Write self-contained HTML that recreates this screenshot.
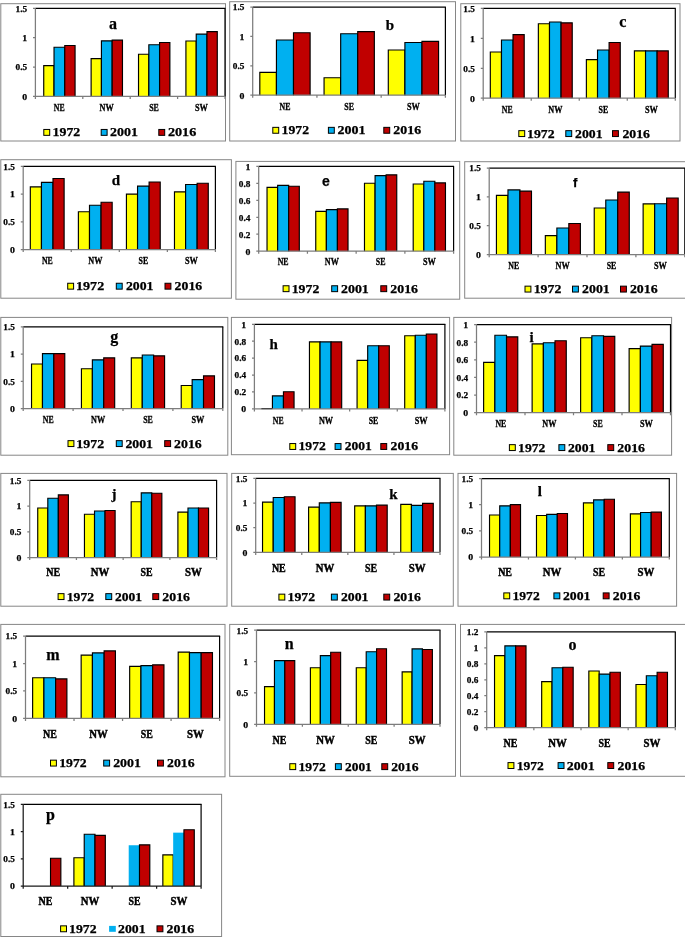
<!DOCTYPE html>
<html><head><meta charset="utf-8"><title>Charts</title>
<style>
html,body{margin:0;padding:0;background:#fff;}
svg{display:block;}
text{font-family:"Liberation Serif",serif;font-weight:bold;fill:#000;stroke:#000;stroke-width:0.25;}
text.c0{stroke-width:0.3px;}
text.c1{stroke-width:0.45px;}
</style></head><body>
<svg width="685" height="937" viewBox="0 0 685 937">
<rect width="685" height="937" fill="#fff"/>
<g id="p_a">
<rect x="0.8" y="3.7" width="224.7" height="137.3" fill="#fff" stroke="#868686" stroke-width="1.0"/>
<path d="M35.4 8.4H225.5" fill="none" stroke="#000" stroke-width="1.2"/>
<path d="M225 8.4V96.4" fill="none" stroke="#000" stroke-width="1.2"/>
<path d="M43.73 96.4V65.62H54.03V96.4" fill="#FFFF00" stroke="#000" stroke-width="1.15"/>
<path d="M54.03 96.4V47.23H64.77V96.4" fill="#00B0F0" stroke="#000" stroke-width="1.15"/>
<path d="M64.77 96.4V45.53H75.07V96.4" fill="#C00000" stroke="#000" stroke-width="1.15"/>
<path d="M91.12 96.4V58.63H101.43V96.4" fill="#FFFF00" stroke="#000" stroke-width="1.15"/>
<path d="M101.43 96.4V40.83H112.17V96.4" fill="#00B0F0" stroke="#000" stroke-width="1.15"/>
<path d="M112.17 96.4V40.13H122.47V96.4" fill="#C00000" stroke="#000" stroke-width="1.15"/>
<path d="M138.52 96.4V54.23H148.83V96.4" fill="#FFFF00" stroke="#000" stroke-width="1.15"/>
<path d="M148.83 96.4V44.73H159.57V96.4" fill="#00B0F0" stroke="#000" stroke-width="1.15"/>
<path d="M159.57 96.4V42.53H169.88V96.4" fill="#C00000" stroke="#000" stroke-width="1.15"/>
<path d="M185.92 96.4V41.03H196.23V96.4" fill="#FFFF00" stroke="#000" stroke-width="1.15"/>
<path d="M196.23 96.4V34.13H206.97V96.4" fill="#00B0F0" stroke="#000" stroke-width="1.15"/>
<path d="M206.97 96.4V31.62H217.28V96.4" fill="#C00000" stroke="#000" stroke-width="1.15"/>
<path d="M35.4 8.4V96.4H225M35.4 8.4h-2.4M35.4 37.73h-2.4M35.4 67.07h-2.4M35.4 96.4h-2.4M35.4 96.4v2.6M82.8 96.4v2.6M130.2 96.4v2.6M177.6 96.4v2.6M225 96.4v2.6" fill="none" stroke="#7d7d7d" stroke-width="1.25"/>
<text x="15.5" y="11.7" font-size="9" textLength="11.6" lengthAdjust="spacingAndGlyphs">1.5</text>
<text x="22.2" y="41.03" font-size="9" textLength="4.9" lengthAdjust="spacingAndGlyphs">1</text>
<text x="15.5" y="70.37" font-size="9" textLength="11.6" lengthAdjust="spacingAndGlyphs">0.5</text>
<text x="22.2" y="99.7" font-size="9" textLength="4.9" lengthAdjust="spacingAndGlyphs">0</text>
<text x="59.2" y="110.9" text-anchor="middle" font-size="9.5" textLength="10.9" lengthAdjust="spacingAndGlyphs" class="c0">NE</text>
<text x="106.6" y="110.9" text-anchor="middle" font-size="9.5" textLength="14.1" lengthAdjust="spacingAndGlyphs" class="c0">NW</text>
<text x="154" y="110.9" text-anchor="middle" font-size="9.5" textLength="9.7" lengthAdjust="spacingAndGlyphs" class="c0">SE</text>
<text x="201.4" y="110.9" text-anchor="middle" font-size="9.5" textLength="12.9" lengthAdjust="spacingAndGlyphs" class="c0">SW</text>
<text x="112.9" y="29" text-anchor="middle" font-size="16">a</text>
<rect x="43.8" y="129.45" width="5.9" height="5.9" fill="#FFFF00" stroke="#000" stroke-width="1"/>
<text x="52.5" y="136.35" font-size="12" textLength="27.8" lengthAdjust="spacingAndGlyphs">1972</text>
<rect x="101.2" y="129.45" width="5.9" height="5.9" fill="#00B0F0" stroke="#000" stroke-width="1"/>
<text x="110" y="136.35" font-size="12" textLength="27.9" lengthAdjust="spacingAndGlyphs">2001</text>
<rect x="158.8" y="129.45" width="5.9" height="5.9" fill="#C00000" stroke="#000" stroke-width="1"/>
<text x="167.9" y="136.35" font-size="12" textLength="28.4" lengthAdjust="spacingAndGlyphs">2016</text>
</g>
<g id="p_b">
<rect x="229.7" y="1.7" width="225.8" height="139.3" fill="#fff" stroke="#868686" stroke-width="1.0"/>
<path d="M252.7 7.05H445.9" fill="none" stroke="#000" stroke-width="1.2"/>
<path d="M445.4 7.05V95.2" fill="none" stroke="#000" stroke-width="1.2"/>
<path d="M259.82 95.2V72.38H276.44V95.2" fill="#FFFF00" stroke="#000" stroke-width="1.15"/>
<path d="M276.44 95.2V39.98H293.49V95.2" fill="#00B0F0" stroke="#000" stroke-width="1.15"/>
<path d="M293.49 95.2V32.73H310.11V95.2" fill="#C00000" stroke="#000" stroke-width="1.15"/>
<path d="M324.06 95.2V77.73H340.68V95.2" fill="#FFFF00" stroke="#000" stroke-width="1.15"/>
<path d="M340.68 95.2V33.73H357.72V95.2" fill="#00B0F0" stroke="#000" stroke-width="1.15"/>
<path d="M357.72 95.2V31.57H374.34V95.2" fill="#C00000" stroke="#000" stroke-width="1.15"/>
<path d="M388.29 95.2V50.03H404.91V95.2" fill="#FFFF00" stroke="#000" stroke-width="1.15"/>
<path d="M404.91 95.2V42.53H421.96V95.2" fill="#00B0F0" stroke="#000" stroke-width="1.15"/>
<path d="M421.96 95.2V41.33H438.57V95.2" fill="#C00000" stroke="#000" stroke-width="1.15"/>
<path d="M252.7 7.05V95.2H445.4M252.7 7.05h-2.4M252.7 36.43h-2.4M252.7 65.82h-2.4M252.7 95.2h-2.4M252.7 95.2v2.6M316.93 95.2v2.6M381.17 95.2v2.6M445.4 95.2v2.6" fill="none" stroke="#7d7d7d" stroke-width="1.25"/>
<text x="232.8" y="10.35" font-size="9" textLength="11.6" lengthAdjust="spacingAndGlyphs">1.5</text>
<text x="239.5" y="39.73" font-size="9" textLength="4.9" lengthAdjust="spacingAndGlyphs">1</text>
<text x="232.8" y="69.12" font-size="9" textLength="11.6" lengthAdjust="spacingAndGlyphs">0.5</text>
<text x="239.5" y="98.5" font-size="9" textLength="4.9" lengthAdjust="spacingAndGlyphs">0</text>
<text x="284.92" y="109.7" text-anchor="middle" font-size="9.5" textLength="10.9" lengthAdjust="spacingAndGlyphs" class="c0">NE</text>
<text x="349.15" y="109.7" text-anchor="middle" font-size="9.5" textLength="9.7" lengthAdjust="spacingAndGlyphs" class="c0">SE</text>
<text x="413.38" y="109.7" text-anchor="middle" font-size="9.5" textLength="12.9" lengthAdjust="spacingAndGlyphs" class="c0">SW</text>
<text x="390" y="29.9" text-anchor="middle" font-size="15">b</text>
<rect x="272.8" y="127.35" width="5.9" height="5.9" fill="#FFFF00" stroke="#000" stroke-width="1"/>
<text x="281.5" y="134.25" font-size="12" textLength="27.5" lengthAdjust="spacingAndGlyphs">1972</text>
<rect x="328.4" y="127.35" width="5.9" height="5.9" fill="#00B0F0" stroke="#000" stroke-width="1"/>
<text x="337.4" y="134.25" font-size="12" textLength="28" lengthAdjust="spacingAndGlyphs">2001</text>
<rect x="383.8" y="127.35" width="5.9" height="5.9" fill="#C00000" stroke="#000" stroke-width="1"/>
<text x="393.3" y="134.25" font-size="12" textLength="27.8" lengthAdjust="spacingAndGlyphs">2016</text>
</g>
<g id="p_c">
<rect x="460.8" y="3.7" width="219.2" height="137.3" fill="#fff" stroke="#868686" stroke-width="1.0"/>
<path d="M483.2 8.4H675.8" fill="none" stroke="#000" stroke-width="1.2"/>
<path d="M675.3 8.4V98.2" fill="none" stroke="#000" stroke-width="1.2"/>
<path d="M490.32 98.2V52.03H501.48V98.2" fill="#FFFF00" stroke="#000" stroke-width="1.15"/>
<path d="M501.48 98.2V39.98H513.05V98.2" fill="#00B0F0" stroke="#000" stroke-width="1.15"/>
<path d="M513.05 98.2V34.63H524.2V98.2" fill="#C00000" stroke="#000" stroke-width="1.15"/>
<path d="M538.35 98.2V23.72H549.5V98.2" fill="#FFFF00" stroke="#000" stroke-width="1.15"/>
<path d="M549.5 98.2V22.02H561.08V98.2" fill="#00B0F0" stroke="#000" stroke-width="1.15"/>
<path d="M561.08 98.2V22.82H572.23V98.2" fill="#C00000" stroke="#000" stroke-width="1.15"/>
<path d="M586.38 98.2V59.63H597.53V98.2" fill="#FFFF00" stroke="#000" stroke-width="1.15"/>
<path d="M597.53 98.2V50.03H609.1V98.2" fill="#00B0F0" stroke="#000" stroke-width="1.15"/>
<path d="M609.1 98.2V42.53H620.25V98.2" fill="#C00000" stroke="#000" stroke-width="1.15"/>
<path d="M634.4 98.2V50.93H645.55V98.2" fill="#FFFF00" stroke="#000" stroke-width="1.15"/>
<path d="M645.55 98.2V50.93H657.12V98.2" fill="#00B0F0" stroke="#000" stroke-width="1.15"/>
<path d="M657.12 98.2V50.93H668.27V98.2" fill="#C00000" stroke="#000" stroke-width="1.15"/>
<path d="M483.2 8.4V98.2H675.3M483.2 8.4h-2.4M483.2 38.33h-2.4M483.2 68.27h-2.4M483.2 98.2h-2.4M483.2 98.2v2.6M531.23 98.2v2.6M579.25 98.2v2.6M627.27 98.2v2.6M675.3 98.2v2.6" fill="none" stroke="#7d7d7d" stroke-width="1.25"/>
<text x="463.3" y="11.7" font-size="9" textLength="11.6" lengthAdjust="spacingAndGlyphs">1.5</text>
<text x="470" y="41.63" font-size="9" textLength="4.9" lengthAdjust="spacingAndGlyphs">1</text>
<text x="463.3" y="71.57" font-size="9" textLength="11.6" lengthAdjust="spacingAndGlyphs">0.5</text>
<text x="470" y="101.5" font-size="9" textLength="4.9" lengthAdjust="spacingAndGlyphs">0</text>
<text x="507.31" y="113.1" text-anchor="middle" font-size="9.5" textLength="10.9" lengthAdjust="spacingAndGlyphs" class="c0">NE</text>
<text x="555.34" y="113.1" text-anchor="middle" font-size="9.5" textLength="14.1" lengthAdjust="spacingAndGlyphs" class="c0">NW</text>
<text x="603.36" y="113.1" text-anchor="middle" font-size="9.5" textLength="9.7" lengthAdjust="spacingAndGlyphs" class="c0">SE</text>
<text x="651.39" y="113.1" text-anchor="middle" font-size="9.5" textLength="12.9" lengthAdjust="spacingAndGlyphs" class="c0">SW</text>
<text x="622.9" y="26.9" text-anchor="middle" font-size="16">c</text>
<rect x="518.8" y="130.65" width="5.9" height="5.9" fill="#FFFF00" stroke="#000" stroke-width="1"/>
<text x="527.1" y="137.55" font-size="12" textLength="27.5" lengthAdjust="spacingAndGlyphs">1972</text>
<rect x="565.8" y="130.65" width="5.9" height="5.9" fill="#00B0F0" stroke="#000" stroke-width="1"/>
<text x="575" y="137.55" font-size="12" textLength="27.5" lengthAdjust="spacingAndGlyphs">2001</text>
<rect x="612.5" y="130.65" width="5.9" height="5.9" fill="#C00000" stroke="#000" stroke-width="1"/>
<text x="622.4" y="137.55" font-size="12" textLength="27.6" lengthAdjust="spacingAndGlyphs">2016</text>
</g>
<g id="p_d">
<rect x="0.8" y="159.7" width="230.6" height="138.5" fill="#fff" stroke="#868686" stroke-width="1.0"/>
<path d="M23.2 166.4H215.9" fill="none" stroke="#000" stroke-width="1.2"/>
<path d="M215.4 166.4V249.5" fill="none" stroke="#000" stroke-width="1.2"/>
<path d="M30.32 249.5V186.92H41.45V249.5" fill="#FFFF00" stroke="#000" stroke-width="1.15"/>
<path d="M41.45 249.5V182.42H53V249.5" fill="#00B0F0" stroke="#000" stroke-width="1.15"/>
<path d="M53 249.5V178.52H64.12V249.5" fill="#C00000" stroke="#000" stroke-width="1.15"/>
<path d="M78.38 249.5V211.72H89.5V249.5" fill="#FFFF00" stroke="#000" stroke-width="1.15"/>
<path d="M89.5 249.5V205.22H101.05V249.5" fill="#00B0F0" stroke="#000" stroke-width="1.15"/>
<path d="M101.05 249.5V202.22H112.17V249.5" fill="#C00000" stroke="#000" stroke-width="1.15"/>
<path d="M126.43 249.5V194.12H137.55V249.5" fill="#FFFF00" stroke="#000" stroke-width="1.15"/>
<path d="M137.55 249.5V186.12H149.1V249.5" fill="#00B0F0" stroke="#000" stroke-width="1.15"/>
<path d="M149.1 249.5V182.02H160.22V249.5" fill="#C00000" stroke="#000" stroke-width="1.15"/>
<path d="M174.47 249.5V191.82H185.6V249.5" fill="#FFFF00" stroke="#000" stroke-width="1.15"/>
<path d="M185.6 249.5V184.52H197.15V249.5" fill="#00B0F0" stroke="#000" stroke-width="1.15"/>
<path d="M197.15 249.5V183.22H208.27V249.5" fill="#C00000" stroke="#000" stroke-width="1.15"/>
<path d="M23.2 166.4V249.5H215.4M23.2 166.4h-2.4M23.2 194.1h-2.4M23.2 221.8h-2.4M23.2 249.5h-2.4M23.2 249.5v2.6M71.25 249.5v2.6M119.3 249.5v2.6M167.35 249.5v2.6M215.4 249.5v2.6" fill="none" stroke="#7d7d7d" stroke-width="1.25"/>
<text x="3.3" y="169.7" font-size="9" textLength="11.6" lengthAdjust="spacingAndGlyphs">1.5</text>
<text x="10" y="197.4" font-size="9" textLength="4.9" lengthAdjust="spacingAndGlyphs">1</text>
<text x="3.3" y="225.1" font-size="9" textLength="11.6" lengthAdjust="spacingAndGlyphs">0.5</text>
<text x="10" y="252.8" font-size="9" textLength="4.9" lengthAdjust="spacingAndGlyphs">0</text>
<text x="47.33" y="264.2" text-anchor="middle" font-size="9.5" textLength="10.9" lengthAdjust="spacingAndGlyphs" class="c0">NE</text>
<text x="95.38" y="264.2" text-anchor="middle" font-size="9.5" textLength="14.1" lengthAdjust="spacingAndGlyphs" class="c0">NW</text>
<text x="143.43" y="264.2" text-anchor="middle" font-size="9.5" textLength="9.7" lengthAdjust="spacingAndGlyphs" class="c0">SE</text>
<text x="191.47" y="264.2" text-anchor="middle" font-size="9.5" textLength="12.9" lengthAdjust="spacingAndGlyphs" class="c0">SW</text>
<text x="116" y="184.9" text-anchor="middle" font-size="15">d</text>
<rect x="67.7" y="283.25" width="5.9" height="5.9" fill="#FFFF00" stroke="#000" stroke-width="1"/>
<text x="76" y="290.15" font-size="12" textLength="28.2" lengthAdjust="spacingAndGlyphs">1972</text>
<rect x="116.3" y="283.25" width="5.9" height="5.9" fill="#00B0F0" stroke="#000" stroke-width="1"/>
<text x="125.9" y="290.15" font-size="12" textLength="27.5" lengthAdjust="spacingAndGlyphs">2001</text>
<rect x="165" y="283.25" width="5.9" height="5.9" fill="#C00000" stroke="#000" stroke-width="1"/>
<text x="174.6" y="290.15" font-size="12" textLength="27.6" lengthAdjust="spacingAndGlyphs">2016</text>
</g>
<g id="p_e">
<rect x="235.9" y="161.4" width="223.8" height="137.8" fill="#fff" stroke="#868686" stroke-width="1.0"/>
<path d="M258.7 166.4H454.1" fill="none" stroke="#000" stroke-width="1.2"/>
<path d="M453.6 166.4V251.2" fill="none" stroke="#000" stroke-width="1.2"/>
<path d="M267.03 251.2V187.42H277.64V251.2" fill="#FFFF00" stroke="#000" stroke-width="1.15"/>
<path d="M277.64 251.2V185.42H288.68V251.2" fill="#00B0F0" stroke="#000" stroke-width="1.15"/>
<path d="M288.68 251.2V186.22H299.3V251.2" fill="#C00000" stroke="#000" stroke-width="1.15"/>
<path d="M315.75 251.2V211.42H326.37V251.2" fill="#FFFF00" stroke="#000" stroke-width="1.15"/>
<path d="M326.37 251.2V209.62H337.41V251.2" fill="#00B0F0" stroke="#000" stroke-width="1.15"/>
<path d="M337.41 251.2V208.92H348.02V251.2" fill="#C00000" stroke="#000" stroke-width="1.15"/>
<path d="M364.48 251.2V183.22H375.09V251.2" fill="#FFFF00" stroke="#000" stroke-width="1.15"/>
<path d="M375.09 251.2V175.62H386.13V251.2" fill="#00B0F0" stroke="#000" stroke-width="1.15"/>
<path d="M386.13 251.2V174.82H396.75V251.2" fill="#C00000" stroke="#000" stroke-width="1.15"/>
<path d="M413.2 251.2V184.02H423.82V251.2" fill="#FFFF00" stroke="#000" stroke-width="1.15"/>
<path d="M423.82 251.2V181.22H434.86V251.2" fill="#00B0F0" stroke="#000" stroke-width="1.15"/>
<path d="M434.86 251.2V182.92H445.47V251.2" fill="#C00000" stroke="#000" stroke-width="1.15"/>
<path d="M258.7 166.4V251.2H453.6M258.7 166.4h-2.4M258.7 183.36h-2.4M258.7 200.32h-2.4M258.7 217.28h-2.4M258.7 234.24h-2.4M258.7 251.2h-2.4M258.7 251.2v2.6M307.43 251.2v2.6M356.15 251.2v2.6M404.88 251.2v2.6M453.6 251.2v2.6" fill="none" stroke="#7d7d7d" stroke-width="1.25"/>
<text x="245.5" y="169.7" font-size="9" textLength="4.9" lengthAdjust="spacingAndGlyphs">1</text>
<text x="238.8" y="186.66" font-size="9" textLength="11.6" lengthAdjust="spacingAndGlyphs">0.8</text>
<text x="238.8" y="203.62" font-size="9" textLength="11.6" lengthAdjust="spacingAndGlyphs">0.6</text>
<text x="238.8" y="220.58" font-size="9" textLength="11.6" lengthAdjust="spacingAndGlyphs">0.4</text>
<text x="238.8" y="237.54" font-size="9" textLength="11.6" lengthAdjust="spacingAndGlyphs">0.2</text>
<text x="245.5" y="254.5" font-size="9" textLength="4.9" lengthAdjust="spacingAndGlyphs">0</text>
<text x="283.16" y="265.2" text-anchor="middle" font-size="9.5" textLength="10.9" lengthAdjust="spacingAndGlyphs" class="c0">NE</text>
<text x="331.89" y="265.2" text-anchor="middle" font-size="9.5" textLength="14.1" lengthAdjust="spacingAndGlyphs" class="c0">NW</text>
<text x="380.61" y="265.2" text-anchor="middle" font-size="9.5" textLength="9.7" lengthAdjust="spacingAndGlyphs" class="c0">SE</text>
<text x="429.34" y="265.2" text-anchor="middle" font-size="9.5" textLength="12.9" lengthAdjust="spacingAndGlyphs" class="c0">SW</text>
<text x="326" y="186.1" text-anchor="middle" font-size="14" style="font-family:'Liberation Sans',sans-serif">e</text>
<rect x="283.1" y="285.75" width="5.9" height="5.9" fill="#FFFF00" stroke="#000" stroke-width="1"/>
<text x="291.7" y="292.65" font-size="12" textLength="27.6" lengthAdjust="spacingAndGlyphs">1972</text>
<rect x="331.7" y="285.75" width="5.9" height="5.9" fill="#00B0F0" stroke="#000" stroke-width="1"/>
<text x="341" y="292.65" font-size="12" textLength="27.8" lengthAdjust="spacingAndGlyphs">2001</text>
<rect x="380.8" y="285.75" width="5.9" height="5.9" fill="#C00000" stroke="#000" stroke-width="1"/>
<text x="390.3" y="292.65" font-size="12" textLength="27.7" lengthAdjust="spacingAndGlyphs">2016</text>
</g>
<g id="p_f">
<rect x="464.7" y="161.7" width="225.3" height="136.5" fill="#fff" stroke="#868686" stroke-width="1.0"/>
<path d="M489.2 168.1H685.3" fill="none" stroke="#000" stroke-width="1.2"/>
<path d="M684.8 168.1V254.55" fill="none" stroke="#000" stroke-width="1.2"/>
<path d="M496.43 254.55V195.32H507.97V254.55" fill="#FFFF00" stroke="#000" stroke-width="1.15"/>
<path d="M507.97 254.55V189.92H519.93V254.55" fill="#00B0F0" stroke="#000" stroke-width="1.15"/>
<path d="M519.93 254.55V191.12H531.48V254.55" fill="#C00000" stroke="#000" stroke-width="1.15"/>
<path d="M545.33 254.55V235.62H556.87V254.55" fill="#FFFF00" stroke="#000" stroke-width="1.15"/>
<path d="M556.87 254.55V228.02H568.83V254.55" fill="#00B0F0" stroke="#000" stroke-width="1.15"/>
<path d="M568.83 254.55V223.52H580.38V254.55" fill="#C00000" stroke="#000" stroke-width="1.15"/>
<path d="M594.23 254.55V208.02H605.77V254.55" fill="#FFFF00" stroke="#000" stroke-width="1.15"/>
<path d="M605.77 254.55V200.02H617.73V254.55" fill="#00B0F0" stroke="#000" stroke-width="1.15"/>
<path d="M617.73 254.55V192.12H629.27V254.55" fill="#C00000" stroke="#000" stroke-width="1.15"/>
<path d="M643.13 254.55V203.87H654.67V254.55" fill="#FFFF00" stroke="#000" stroke-width="1.15"/>
<path d="M654.67 254.55V203.72H666.63V254.55" fill="#00B0F0" stroke="#000" stroke-width="1.15"/>
<path d="M666.63 254.55V198.02H678.18V254.55" fill="#C00000" stroke="#000" stroke-width="1.15"/>
<path d="M489.2 168.1V254.55H684.8M489.2 168.1h-2.4M489.2 196.92h-2.4M489.2 225.73h-2.4M489.2 254.55h-2.4M489.2 254.55v2.6M538.1 254.55v2.6M587 254.55v2.6M635.9 254.55v2.6M684.8 254.55v2.6" fill="none" stroke="#7d7d7d" stroke-width="1.25"/>
<text x="469.3" y="171.4" font-size="9" textLength="11.6" lengthAdjust="spacingAndGlyphs">1.5</text>
<text x="476" y="200.22" font-size="9" textLength="4.9" lengthAdjust="spacingAndGlyphs">1</text>
<text x="469.3" y="229.03" font-size="9" textLength="11.6" lengthAdjust="spacingAndGlyphs">0.5</text>
<text x="476" y="257.85" font-size="9" textLength="4.9" lengthAdjust="spacingAndGlyphs">0</text>
<text x="513.75" y="269.2" text-anchor="middle" font-size="9.5" textLength="10.9" lengthAdjust="spacingAndGlyphs" class="c0">NE</text>
<text x="562.65" y="269.2" text-anchor="middle" font-size="9.5" textLength="14.1" lengthAdjust="spacingAndGlyphs" class="c0">NW</text>
<text x="611.55" y="269.2" text-anchor="middle" font-size="9.5" textLength="9.7" lengthAdjust="spacingAndGlyphs" class="c0">SE</text>
<text x="660.45" y="269.2" text-anchor="middle" font-size="9.5" textLength="12.9" lengthAdjust="spacingAndGlyphs" class="c0">SW</text>
<text x="575.2" y="186.6" text-anchor="middle" font-size="13" style="font-family:'Liberation Sans',sans-serif">f</text>
<rect x="525" y="286.15" width="5.9" height="5.9" fill="#FFFF00" stroke="#000" stroke-width="1"/>
<text x="533.7" y="293.05" font-size="12" textLength="27.7" lengthAdjust="spacingAndGlyphs">1972</text>
<rect x="572.5" y="286.15" width="5.9" height="5.9" fill="#00B0F0" stroke="#000" stroke-width="1"/>
<text x="582.1" y="293.05" font-size="12" textLength="27.6" lengthAdjust="spacingAndGlyphs">2001</text>
<rect x="620.5" y="286.15" width="5.9" height="5.9" fill="#C00000" stroke="#000" stroke-width="1"/>
<text x="629.9" y="293.05" font-size="12" textLength="27.7" lengthAdjust="spacingAndGlyphs">2016</text>
</g>
<g id="p_g">
<rect x="0.8" y="317.4" width="227" height="137.8" fill="#fff" stroke="#868686" stroke-width="1.0"/>
<path d="M23.2 326.8H223.3" fill="none" stroke="#000" stroke-width="1.2"/>
<path d="M222.8 326.8V408.5" fill="none" stroke="#000" stroke-width="1.2"/>
<path d="M31.53 408.5V364.02H42.47V408.5" fill="#FFFF00" stroke="#000" stroke-width="1.15"/>
<path d="M42.47 408.5V353.62H53.83V408.5" fill="#00B0F0" stroke="#000" stroke-width="1.15"/>
<path d="M53.83 408.5V353.62H64.77V408.5" fill="#C00000" stroke="#000" stroke-width="1.15"/>
<path d="M81.43 408.5V368.72H92.37V408.5" fill="#FFFF00" stroke="#000" stroke-width="1.15"/>
<path d="M92.37 408.5V359.82H103.73V408.5" fill="#00B0F0" stroke="#000" stroke-width="1.15"/>
<path d="M103.73 408.5V357.82H114.68V408.5" fill="#C00000" stroke="#000" stroke-width="1.15"/>
<path d="M131.32 408.5V357.82H142.27V408.5" fill="#FFFF00" stroke="#000" stroke-width="1.15"/>
<path d="M142.27 408.5V355.02H153.63V408.5" fill="#00B0F0" stroke="#000" stroke-width="1.15"/>
<path d="M153.63 408.5V355.82H164.58V408.5" fill="#C00000" stroke="#000" stroke-width="1.15"/>
<path d="M181.22 408.5V385.52H192.17V408.5" fill="#FFFF00" stroke="#000" stroke-width="1.15"/>
<path d="M192.17 408.5V379.67H203.53V408.5" fill="#00B0F0" stroke="#000" stroke-width="1.15"/>
<path d="M203.53 408.5V375.82H214.48V408.5" fill="#C00000" stroke="#000" stroke-width="1.15"/>
<path d="M23.2 326.8V408.5H222.8M23.2 326.8h-2.4M23.2 354.03h-2.4M23.2 381.27h-2.4M23.2 408.5h-2.4M23.2 408.5v2.6M73.1 408.5v2.6M123 408.5v2.6M172.9 408.5v2.6M222.8 408.5v2.6" fill="none" stroke="#7d7d7d" stroke-width="1.25"/>
<text x="3.3" y="330.1" font-size="9" textLength="11.6" lengthAdjust="spacingAndGlyphs">1.5</text>
<text x="10" y="357.33" font-size="9" textLength="4.9" lengthAdjust="spacingAndGlyphs">1</text>
<text x="3.3" y="384.57" font-size="9" textLength="11.6" lengthAdjust="spacingAndGlyphs">0.5</text>
<text x="10" y="411.8" font-size="9" textLength="4.9" lengthAdjust="spacingAndGlyphs">0</text>
<text x="48.25" y="423.1" text-anchor="middle" font-size="9.5" textLength="10.9" lengthAdjust="spacingAndGlyphs" class="c0">NE</text>
<text x="98.15" y="423.1" text-anchor="middle" font-size="9.5" textLength="14.1" lengthAdjust="spacingAndGlyphs" class="c0">NW</text>
<text x="148.05" y="423.1" text-anchor="middle" font-size="9.5" textLength="9.7" lengthAdjust="spacingAndGlyphs" class="c0">SE</text>
<text x="197.95" y="423.1" text-anchor="middle" font-size="9.5" textLength="12.9" lengthAdjust="spacingAndGlyphs" class="c0">SW</text>
<text x="114.2" y="341.9" text-anchor="middle" font-size="16">g</text>
<rect x="68" y="440.65" width="5.9" height="5.9" fill="#FFFF00" stroke="#000" stroke-width="1"/>
<text x="76.3" y="447.55" font-size="12" textLength="27.9" lengthAdjust="spacingAndGlyphs">1972</text>
<rect x="116.3" y="440.65" width="5.9" height="5.9" fill="#00B0F0" stroke="#000" stroke-width="1"/>
<text x="125.4" y="447.55" font-size="12" textLength="27.6" lengthAdjust="spacingAndGlyphs">2001</text>
<rect x="164.7" y="440.65" width="5.9" height="5.9" fill="#C00000" stroke="#000" stroke-width="1"/>
<text x="174.1" y="447.55" font-size="12" textLength="27.6" lengthAdjust="spacingAndGlyphs">2016</text>
</g>
<g id="p_h">
<rect x="231.4" y="317.4" width="218.2" height="137.3" fill="#fff" stroke="#868686" stroke-width="1.0"/>
<path d="M254.4 324.3H445.4" fill="none" stroke="#000" stroke-width="1.2"/>
<path d="M444.9 324.3V408.9" fill="none" stroke="#000" stroke-width="1.2"/>
<path d="M272.43 408.9V395.92H283.45V408.9" fill="#00B0F0" stroke="#000" stroke-width="1.15"/>
<path d="M283.45 408.9V391.72H294.05V408.9" fill="#C00000" stroke="#000" stroke-width="1.15"/>
<path d="M309.45 408.9V341.92H320.05V408.9" fill="#FFFF00" stroke="#000" stroke-width="1.15"/>
<path d="M320.05 408.9V341.92H331.08V408.9" fill="#00B0F0" stroke="#000" stroke-width="1.15"/>
<path d="M331.08 408.9V341.92H341.68V408.9" fill="#C00000" stroke="#000" stroke-width="1.15"/>
<path d="M357.07 408.9V360.38H367.68V408.9" fill="#FFFF00" stroke="#000" stroke-width="1.15"/>
<path d="M367.68 408.9V345.72H378.7V408.9" fill="#00B0F0" stroke="#000" stroke-width="1.15"/>
<path d="M378.7 408.9V345.72H389.3V408.9" fill="#C00000" stroke="#000" stroke-width="1.15"/>
<path d="M404.7 408.9V335.72H415.3V408.9" fill="#FFFF00" stroke="#000" stroke-width="1.15"/>
<path d="M415.3 408.9V335.22H426.33V408.9" fill="#00B0F0" stroke="#000" stroke-width="1.15"/>
<path d="M426.33 408.9V334.02H436.93V408.9" fill="#C00000" stroke="#000" stroke-width="1.15"/>
<path d="M254.4 324.3V408.9H444.9M254.4 324.3h-2.4M254.4 341.22h-2.4M254.4 358.14h-2.4M254.4 375.06h-2.4M254.4 391.98h-2.4M254.4 408.9h-2.4M254.4 408.9v2.6M302.02 408.9v2.6M349.65 408.9v2.6M397.27 408.9v2.6M444.9 408.9v2.6" fill="none" stroke="#7d7d7d" stroke-width="1.25"/>
<path d="M261.4 408.7H272.43" stroke="#333" stroke-width="1"/>
<text x="241.2" y="327.6" font-size="9" textLength="4.9" lengthAdjust="spacingAndGlyphs">1</text>
<text x="234.5" y="344.52" font-size="9" textLength="11.6" lengthAdjust="spacingAndGlyphs">0.8</text>
<text x="234.5" y="361.44" font-size="9" textLength="11.6" lengthAdjust="spacingAndGlyphs">0.6</text>
<text x="234.5" y="378.36" font-size="9" textLength="11.6" lengthAdjust="spacingAndGlyphs">0.4</text>
<text x="234.5" y="395.28" font-size="9" textLength="11.6" lengthAdjust="spacingAndGlyphs">0.2</text>
<text x="241.2" y="412.2" font-size="9" textLength="4.9" lengthAdjust="spacingAndGlyphs">0</text>
<text x="278.31" y="423.7" text-anchor="middle" font-size="9.5" textLength="10.9" lengthAdjust="spacingAndGlyphs" class="c0">NE</text>
<text x="325.94" y="423.7" text-anchor="middle" font-size="9.5" textLength="14.1" lengthAdjust="spacingAndGlyphs" class="c0">NW</text>
<text x="373.56" y="423.7" text-anchor="middle" font-size="9.5" textLength="9.7" lengthAdjust="spacingAndGlyphs" class="c0">SE</text>
<text x="421.19" y="423.7" text-anchor="middle" font-size="9.5" textLength="12.9" lengthAdjust="spacingAndGlyphs" class="c0">SW</text>
<text x="273.7" y="348.6" text-anchor="middle" font-size="15">h</text>
<rect x="289.8" y="443.55" width="5.9" height="5.9" fill="#FFFF00" stroke="#000" stroke-width="1"/>
<text x="298.5" y="450.45" font-size="12" textLength="27.3" lengthAdjust="spacingAndGlyphs">1972</text>
<rect x="335.1" y="443.55" width="5.9" height="5.9" fill="#00B0F0" stroke="#000" stroke-width="1"/>
<text x="344.7" y="450.45" font-size="12" textLength="27.1" lengthAdjust="spacingAndGlyphs">2001</text>
<rect x="380.8" y="443.55" width="5.9" height="5.9" fill="#C00000" stroke="#000" stroke-width="1"/>
<text x="390.5" y="450.45" font-size="12" textLength="27.5" lengthAdjust="spacingAndGlyphs">2016</text>
</g>
<g id="p_i">
<rect x="453.8" y="317.4" width="217.8" height="137.8" fill="#fff" stroke="#868686" stroke-width="1.0"/>
<path d="M476.5 324.6H671" fill="none" stroke="#000" stroke-width="1.2"/>
<path d="M670.5 324.6V412.7" fill="none" stroke="#000" stroke-width="1.2"/>
<path d="M483.62 412.7V362.42H494.87V412.7" fill="#FFFF00" stroke="#000" stroke-width="1.15"/>
<path d="M494.87 412.7V335.22H506.53V412.7" fill="#00B0F0" stroke="#000" stroke-width="1.15"/>
<path d="M506.53 412.7V336.82H517.77V412.7" fill="#C00000" stroke="#000" stroke-width="1.15"/>
<path d="M532.13 412.7V343.92H543.37V412.7" fill="#FFFF00" stroke="#000" stroke-width="1.15"/>
<path d="M543.37 412.7V342.72H555.03V412.7" fill="#00B0F0" stroke="#000" stroke-width="1.15"/>
<path d="M555.03 412.7V340.72H566.27V412.7" fill="#C00000" stroke="#000" stroke-width="1.15"/>
<path d="M580.63 412.7V337.72H591.87V412.7" fill="#FFFF00" stroke="#000" stroke-width="1.15"/>
<path d="M591.87 412.7V335.72H603.53V412.7" fill="#00B0F0" stroke="#000" stroke-width="1.15"/>
<path d="M603.53 412.7V336.32H614.77V412.7" fill="#C00000" stroke="#000" stroke-width="1.15"/>
<path d="M629.13 412.7V348.62H640.37V412.7" fill="#FFFF00" stroke="#000" stroke-width="1.15"/>
<path d="M640.37 412.7V346.12H652.03V412.7" fill="#00B0F0" stroke="#000" stroke-width="1.15"/>
<path d="M652.03 412.7V344.42H663.27V412.7" fill="#C00000" stroke="#000" stroke-width="1.15"/>
<path d="M476.5 324.6V412.7H670.5M476.5 324.6h-2.4M476.5 342.22h-2.4M476.5 359.84h-2.4M476.5 377.46h-2.4M476.5 395.08h-2.4M476.5 412.7h-2.4M476.5 412.7v2.6M525 412.7v2.6M573.5 412.7v2.6M622 412.7v2.6M670.5 412.7v2.6" fill="none" stroke="#7d7d7d" stroke-width="1.25"/>
<text x="463.3" y="327.9" font-size="9" textLength="4.9" lengthAdjust="spacingAndGlyphs">1</text>
<text x="456.6" y="345.52" font-size="9" textLength="11.6" lengthAdjust="spacingAndGlyphs">0.8</text>
<text x="456.6" y="363.14" font-size="9" textLength="11.6" lengthAdjust="spacingAndGlyphs">0.6</text>
<text x="456.6" y="380.76" font-size="9" textLength="11.6" lengthAdjust="spacingAndGlyphs">0.4</text>
<text x="456.6" y="398.38" font-size="9" textLength="11.6" lengthAdjust="spacingAndGlyphs">0.2</text>
<text x="463.3" y="416" font-size="9" textLength="4.9" lengthAdjust="spacingAndGlyphs">0</text>
<text x="500.85" y="427.2" text-anchor="middle" font-size="9.5" textLength="10.9" lengthAdjust="spacingAndGlyphs" class="c0">NE</text>
<text x="549.35" y="427.2" text-anchor="middle" font-size="9.5" textLength="14.1" lengthAdjust="spacingAndGlyphs" class="c0">NW</text>
<text x="597.85" y="427.2" text-anchor="middle" font-size="9.5" textLength="9.7" lengthAdjust="spacingAndGlyphs" class="c0">SE</text>
<text x="646.35" y="427.2" text-anchor="middle" font-size="9.5" textLength="12.9" lengthAdjust="spacingAndGlyphs" class="c0">SW</text>
<text x="531.7" y="341.9" text-anchor="middle" font-size="15">i</text>
<rect x="509.4" y="444.65" width="5.9" height="5.9" fill="#FFFF00" stroke="#000" stroke-width="1"/>
<text x="518.1" y="451.55" font-size="12" textLength="27.3" lengthAdjust="spacingAndGlyphs">1972</text>
<rect x="558.9" y="444.65" width="5.9" height="5.9" fill="#00B0F0" stroke="#000" stroke-width="1"/>
<text x="568" y="451.55" font-size="12" textLength="27.4" lengthAdjust="spacingAndGlyphs">2001</text>
<rect x="607.8" y="444.65" width="5.9" height="5.9" fill="#C00000" stroke="#000" stroke-width="1"/>
<text x="617.3" y="451.55" font-size="12" textLength="27.7" lengthAdjust="spacingAndGlyphs">2016</text>
</g>
<g id="p_j">
<rect x="0.8" y="473.4" width="226.2" height="132.8" fill="#fff" stroke="#868686" stroke-width="1.0"/>
<path d="M29.7 480.3H217.1" fill="none" stroke="#000" stroke-width="1.2"/>
<path d="M216.6 480.3V557.5" fill="none" stroke="#000" stroke-width="1.2"/>
<path d="M37.73 557.5V507.97H47.81V557.5" fill="#FFFF00" stroke="#000" stroke-width="1.15"/>
<path d="M47.81 557.5V498.22H58.32V557.5" fill="#00B0F0" stroke="#000" stroke-width="1.15"/>
<path d="M58.32 557.5V494.92H68.4V557.5" fill="#C00000" stroke="#000" stroke-width="1.15"/>
<path d="M84.45 557.5V514.23H94.53V557.5" fill="#FFFF00" stroke="#000" stroke-width="1.15"/>
<path d="M94.53 557.5V511.02H105.04V557.5" fill="#00B0F0" stroke="#000" stroke-width="1.15"/>
<path d="M105.04 557.5V510.52H115.12V557.5" fill="#C00000" stroke="#000" stroke-width="1.15"/>
<path d="M131.17 557.5V501.72H141.26V557.5" fill="#FFFF00" stroke="#000" stroke-width="1.15"/>
<path d="M141.26 557.5V492.82H151.77V557.5" fill="#00B0F0" stroke="#000" stroke-width="1.15"/>
<path d="M151.77 557.5V493.22H161.85V557.5" fill="#C00000" stroke="#000" stroke-width="1.15"/>
<path d="M177.9 557.5V512.17H187.98V557.5" fill="#FFFF00" stroke="#000" stroke-width="1.15"/>
<path d="M187.98 557.5V507.97H198.49V557.5" fill="#00B0F0" stroke="#000" stroke-width="1.15"/>
<path d="M198.49 557.5V507.97H208.57V557.5" fill="#C00000" stroke="#000" stroke-width="1.15"/>
<path d="M29.7 480.3V557.5H216.6M29.7 480.3h-2.4M29.7 506.03h-2.4M29.7 531.77h-2.4M29.7 557.5h-2.4M29.7 557.5v2.6M76.42 557.5v2.6M123.15 557.5v2.6M169.88 557.5v2.6M216.6 557.5v2.6" fill="none" stroke="#7d7d7d" stroke-width="1.25"/>
<text x="9.8" y="483.6" font-size="9" textLength="11.6" lengthAdjust="spacingAndGlyphs">1.5</text>
<text x="16.5" y="509.33" font-size="9" textLength="4.9" lengthAdjust="spacingAndGlyphs">1</text>
<text x="9.8" y="535.07" font-size="9" textLength="11.6" lengthAdjust="spacingAndGlyphs">0.5</text>
<text x="16.5" y="560.8" font-size="9" textLength="4.9" lengthAdjust="spacingAndGlyphs">0</text>
<text x="53.16" y="576.2" text-anchor="middle" font-size="11.5" textLength="13.9" lengthAdjust="spacingAndGlyphs" class="c1">NE</text>
<text x="99.89" y="576.2" text-anchor="middle" font-size="11.5" textLength="18.5" lengthAdjust="spacingAndGlyphs" class="c1">NW</text>
<text x="146.61" y="576.2" text-anchor="middle" font-size="11.5" textLength="12.1" lengthAdjust="spacingAndGlyphs" class="c1">SE</text>
<text x="193.34" y="576.2" text-anchor="middle" font-size="11.5" textLength="16.8" lengthAdjust="spacingAndGlyphs" class="c1">SW</text>
<text x="114" y="498.6" text-anchor="middle" font-size="15">j</text>
<rect x="58.1" y="593.65" width="5.9" height="5.9" fill="#FFFF00" stroke="#000" stroke-width="1"/>
<text x="66.8" y="600.55" font-size="12" textLength="27.3" lengthAdjust="spacingAndGlyphs">1972</text>
<rect x="105.8" y="593.65" width="5.9" height="5.9" fill="#00B0F0" stroke="#000" stroke-width="1"/>
<text x="115" y="600.55" font-size="12" textLength="27.1" lengthAdjust="spacingAndGlyphs">2001</text>
<rect x="152.8" y="593.65" width="5.9" height="5.9" fill="#C00000" stroke="#000" stroke-width="1"/>
<text x="162.3" y="600.55" font-size="12" textLength="27.7" lengthAdjust="spacingAndGlyphs">2016</text>
</g>
<g id="p_k">
<rect x="231.7" y="473.4" width="221.6" height="132.8" fill="#fff" stroke="#868686" stroke-width="1.0"/>
<path d="M255.7 478.4H440.5" fill="none" stroke="#000" stroke-width="1.2"/>
<path d="M440 478.4V552.3" fill="none" stroke="#000" stroke-width="1.2"/>
<path d="M262.53 552.3V502.12H273.23V552.3" fill="#FFFF00" stroke="#000" stroke-width="1.15"/>
<path d="M273.23 552.3V497.52H284.35V552.3" fill="#00B0F0" stroke="#000" stroke-width="1.15"/>
<path d="M284.35 552.3V496.72H295.05V552.3" fill="#C00000" stroke="#000" stroke-width="1.15"/>
<path d="M308.6 552.3V507.12H319.3V552.3" fill="#FFFF00" stroke="#000" stroke-width="1.15"/>
<path d="M319.3 552.3V502.92H330.43V552.3" fill="#00B0F0" stroke="#000" stroke-width="1.15"/>
<path d="M330.42 552.3V502.42H341.12V552.3" fill="#C00000" stroke="#000" stroke-width="1.15"/>
<path d="M354.68 552.3V505.92H365.38V552.3" fill="#FFFF00" stroke="#000" stroke-width="1.15"/>
<path d="M365.38 552.3V505.82H376.5V552.3" fill="#00B0F0" stroke="#000" stroke-width="1.15"/>
<path d="M376.5 552.3V505.12H387.2V552.3" fill="#C00000" stroke="#000" stroke-width="1.15"/>
<path d="M400.75 552.3V504.32H411.45V552.3" fill="#FFFF00" stroke="#000" stroke-width="1.15"/>
<path d="M411.45 552.3V505.42H422.58V552.3" fill="#00B0F0" stroke="#000" stroke-width="1.15"/>
<path d="M422.57 552.3V503.42H433.27V552.3" fill="#C00000" stroke="#000" stroke-width="1.15"/>
<path d="M255.7 478.4V552.3H440M255.7 478.4h-2.4M255.7 503.03h-2.4M255.7 527.67h-2.4M255.7 552.3h-2.4M255.7 552.3v2.6M301.77 552.3v2.6M347.85 552.3v2.6M393.93 552.3v2.6M440 552.3v2.6" fill="none" stroke="#7d7d7d" stroke-width="1.25"/>
<text x="235.8" y="481.7" font-size="9" textLength="11.6" lengthAdjust="spacingAndGlyphs">1.5</text>
<text x="242.5" y="506.33" font-size="9" textLength="4.9" lengthAdjust="spacingAndGlyphs">1</text>
<text x="235.8" y="530.97" font-size="9" textLength="11.6" lengthAdjust="spacingAndGlyphs">0.5</text>
<text x="242.5" y="555.6" font-size="9" textLength="4.9" lengthAdjust="spacingAndGlyphs">0</text>
<text x="278.84" y="571.7" text-anchor="middle" font-size="11.5" textLength="13.9" lengthAdjust="spacingAndGlyphs" class="c1">NE</text>
<text x="324.91" y="571.7" text-anchor="middle" font-size="11.5" textLength="18.5" lengthAdjust="spacingAndGlyphs" class="c1">NW</text>
<text x="370.99" y="571.7" text-anchor="middle" font-size="11.5" textLength="12.1" lengthAdjust="spacingAndGlyphs" class="c1">SE</text>
<text x="417.06" y="571.7" text-anchor="middle" font-size="11.5" textLength="16.8" lengthAdjust="spacingAndGlyphs" class="c1">SW</text>
<text x="393.5" y="498.55" text-anchor="middle" font-size="15">k</text>
<rect x="278.9" y="594.15" width="5.9" height="5.9" fill="#FFFF00" stroke="#000" stroke-width="1"/>
<text x="287.5" y="601.05" font-size="12" textLength="27.6" lengthAdjust="spacingAndGlyphs">1972</text>
<rect x="331.4" y="594.15" width="5.9" height="5.9" fill="#00B0F0" stroke="#000" stroke-width="1"/>
<text x="340.9" y="601.05" font-size="12" textLength="27.5" lengthAdjust="spacingAndGlyphs">2001</text>
<rect x="383.8" y="594.15" width="5.9" height="5.9" fill="#C00000" stroke="#000" stroke-width="1"/>
<text x="393.4" y="601.05" font-size="12" textLength="27.6" lengthAdjust="spacingAndGlyphs">2016</text>
</g>
<g id="p_l">
<rect x="458" y="473.4" width="218.6" height="132.8" fill="#fff" stroke="#868686" stroke-width="1.0"/>
<path d="M481.5 478.6H669.8" fill="none" stroke="#000" stroke-width="1.2"/>
<path d="M669.3 478.6V557" fill="none" stroke="#000" stroke-width="1.2"/>
<path d="M489.53 557V515.03H499.72V557" fill="#FFFF00" stroke="#000" stroke-width="1.15"/>
<path d="M499.72 557V505.82H510.33V557" fill="#00B0F0" stroke="#000" stroke-width="1.15"/>
<path d="M510.33 557V504.62H520.52V557" fill="#C00000" stroke="#000" stroke-width="1.15"/>
<path d="M536.48 557V515.53H546.67V557" fill="#FFFF00" stroke="#000" stroke-width="1.15"/>
<path d="M546.67 557V514.33H557.28V557" fill="#00B0F0" stroke="#000" stroke-width="1.15"/>
<path d="M557.28 557V513.53H567.48V557" fill="#C00000" stroke="#000" stroke-width="1.15"/>
<path d="M583.43 557V502.92H593.62V557" fill="#FFFF00" stroke="#000" stroke-width="1.15"/>
<path d="M593.62 557V499.92H604.23V557" fill="#00B0F0" stroke="#000" stroke-width="1.15"/>
<path d="M604.23 557V499.22H614.42V557" fill="#C00000" stroke="#000" stroke-width="1.15"/>
<path d="M630.38 557V513.83H640.57V557" fill="#FFFF00" stroke="#000" stroke-width="1.15"/>
<path d="M640.57 557V512.52H651.18V557" fill="#00B0F0" stroke="#000" stroke-width="1.15"/>
<path d="M651.18 557V512.17H661.37V557" fill="#C00000" stroke="#000" stroke-width="1.15"/>
<path d="M481.5 478.6V557H669.3M481.5 478.6h-2.4M481.5 504.73h-2.4M481.5 530.87h-2.4M481.5 557h-2.4M481.5 557v2.6M528.45 557v2.6M575.4 557v2.6M622.35 557v2.6M669.3 557v2.6" fill="none" stroke="#7d7d7d" stroke-width="1.25"/>
<text x="461.6" y="481.9" font-size="9" textLength="11.6" lengthAdjust="spacingAndGlyphs">1.5</text>
<text x="468.3" y="508.03" font-size="9" textLength="4.9" lengthAdjust="spacingAndGlyphs">1</text>
<text x="461.6" y="534.17" font-size="9" textLength="11.6" lengthAdjust="spacingAndGlyphs">0.5</text>
<text x="468.3" y="560.3" font-size="9" textLength="4.9" lengthAdjust="spacingAndGlyphs">0</text>
<text x="505.08" y="575.9" text-anchor="middle" font-size="11.5" textLength="13.9" lengthAdjust="spacingAndGlyphs" class="c1">NE</text>
<text x="552.02" y="575.9" text-anchor="middle" font-size="11.5" textLength="18.5" lengthAdjust="spacingAndGlyphs" class="c1">NW</text>
<text x="598.98" y="575.9" text-anchor="middle" font-size="11.5" textLength="12.1" lengthAdjust="spacingAndGlyphs" class="c1">SE</text>
<text x="645.92" y="575.9" text-anchor="middle" font-size="11.5" textLength="16.8" lengthAdjust="spacingAndGlyphs" class="c1">SW</text>
<text x="539.8" y="496.2" text-anchor="middle" font-size="15">l</text>
<rect x="503.8" y="592.9" width="5.9" height="5.9" fill="#FFFF00" stroke="#000" stroke-width="1"/>
<text x="512.5" y="599.8" font-size="12" textLength="27.2" lengthAdjust="spacingAndGlyphs">1972</text>
<rect x="553.9" y="592.9" width="5.9" height="5.9" fill="#00B0F0" stroke="#000" stroke-width="1"/>
<text x="562.9" y="599.8" font-size="12" textLength="27.5" lengthAdjust="spacingAndGlyphs">2001</text>
<rect x="603.2" y="592.9" width="5.9" height="5.9" fill="#C00000" stroke="#000" stroke-width="1"/>
<text x="612.8" y="599.8" font-size="12" textLength="27.5" lengthAdjust="spacingAndGlyphs">2016</text>
</g>
<g id="p_m">
<rect x="0.8" y="624.4" width="224.2" height="152.4" fill="#fff" stroke="#868686" stroke-width="1.0"/>
<path d="M25.5 636.1H220.1" fill="none" stroke="#000" stroke-width="1.2"/>
<path d="M219.6 636.1V718.4" fill="none" stroke="#000" stroke-width="1.2"/>
<path d="M32.63 718.4V677.73H43.91V718.4" fill="#FFFF00" stroke="#000" stroke-width="1.15"/>
<path d="M43.91 718.4V677.73H55.62V718.4" fill="#00B0F0" stroke="#000" stroke-width="1.15"/>
<path d="M55.62 718.4V678.93H66.9V718.4" fill="#C00000" stroke="#000" stroke-width="1.15"/>
<path d="M81.15 718.4V655.13H92.43V718.4" fill="#FFFF00" stroke="#000" stroke-width="1.15"/>
<path d="M92.43 718.4V652.93H104.14V718.4" fill="#00B0F0" stroke="#000" stroke-width="1.15"/>
<path d="M104.14 718.4V650.93H115.43V718.4" fill="#C00000" stroke="#000" stroke-width="1.15"/>
<path d="M129.67 718.4V666.33H140.96V718.4" fill="#FFFF00" stroke="#000" stroke-width="1.15"/>
<path d="M140.96 718.4V665.68H152.67V718.4" fill="#00B0F0" stroke="#000" stroke-width="1.15"/>
<path d="M152.67 718.4V664.83H163.95V718.4" fill="#C00000" stroke="#000" stroke-width="1.15"/>
<path d="M178.2 718.4V652.08H189.48V718.4" fill="#FFFF00" stroke="#000" stroke-width="1.15"/>
<path d="M189.48 718.4V652.63H201.19V718.4" fill="#00B0F0" stroke="#000" stroke-width="1.15"/>
<path d="M201.19 718.4V652.63H212.47V718.4" fill="#C00000" stroke="#000" stroke-width="1.15"/>
<path d="M25.5 636.1V718.4H219.6M25.5 636.1h-2.4M25.5 663.53h-2.4M25.5 690.97h-2.4M25.5 718.4h-2.4M25.5 718.4v2.6M74.03 718.4v2.6M122.55 718.4v2.6M171.07 718.4v2.6M219.6 718.4v2.6" fill="none" stroke="#7d7d7d" stroke-width="1.25"/>
<text x="5.6" y="639.4" font-size="9" textLength="11.6" lengthAdjust="spacingAndGlyphs">1.5</text>
<text x="12.3" y="666.83" font-size="9" textLength="4.9" lengthAdjust="spacingAndGlyphs">1</text>
<text x="5.6" y="694.27" font-size="9" textLength="11.6" lengthAdjust="spacingAndGlyphs">0.5</text>
<text x="12.3" y="721.7" font-size="9" textLength="4.9" lengthAdjust="spacingAndGlyphs">0</text>
<text x="49.86" y="738.1" text-anchor="middle" font-size="11.5" textLength="13.9" lengthAdjust="spacingAndGlyphs" class="c1">NE</text>
<text x="98.39" y="738.1" text-anchor="middle" font-size="11.5" textLength="18.5" lengthAdjust="spacingAndGlyphs" class="c1">NW</text>
<text x="146.91" y="738.1" text-anchor="middle" font-size="11.5" textLength="12.1" lengthAdjust="spacingAndGlyphs" class="c1">SE</text>
<text x="195.44" y="738.1" text-anchor="middle" font-size="11.5" textLength="16.8" lengthAdjust="spacingAndGlyphs" class="c1">SW</text>
<text x="52.9" y="660.1" text-anchor="middle" font-size="16">m</text>
<rect x="50.5" y="760.15" width="5.9" height="5.9" fill="#FFFF00" stroke="#000" stroke-width="1"/>
<text x="59.2" y="767.05" font-size="12" textLength="27.4" lengthAdjust="spacingAndGlyphs">1972</text>
<rect x="103.7" y="760.15" width="5.9" height="5.9" fill="#00B0F0" stroke="#000" stroke-width="1"/>
<text x="113.2" y="767.05" font-size="12" textLength="27.7" lengthAdjust="spacingAndGlyphs">2001</text>
<rect x="157.5" y="760.15" width="5.9" height="5.9" fill="#C00000" stroke="#000" stroke-width="1"/>
<text x="167" y="767.05" font-size="12" textLength="27.5" lengthAdjust="spacingAndGlyphs">2016</text>
</g>
<g id="p_n">
<rect x="229.7" y="624.4" width="225.8" height="151.9" fill="#fff" stroke="#868686" stroke-width="1.0"/>
<path d="M256.5 630.2H440.5" fill="none" stroke="#000" stroke-width="1.2"/>
<path d="M440 630.2V724.25" fill="none" stroke="#000" stroke-width="1.2"/>
<path d="M264.53 724.25V686.63H274.46V724.25" fill="#FFFF00" stroke="#000" stroke-width="1.15"/>
<path d="M274.46 724.25V660.63H284.82V724.25" fill="#00B0F0" stroke="#000" stroke-width="1.15"/>
<path d="M284.82 724.25V660.63H294.75V724.25" fill="#C00000" stroke="#000" stroke-width="1.15"/>
<path d="M310.4 724.25V667.73H320.33V724.25" fill="#FFFF00" stroke="#000" stroke-width="1.15"/>
<path d="M320.33 724.25V655.63H330.69V724.25" fill="#00B0F0" stroke="#000" stroke-width="1.15"/>
<path d="M330.69 724.25V652.23H340.62V724.25" fill="#C00000" stroke="#000" stroke-width="1.15"/>
<path d="M356.28 724.25V667.73H366.21V724.25" fill="#FFFF00" stroke="#000" stroke-width="1.15"/>
<path d="M366.21 724.25V651.73H376.57V724.25" fill="#00B0F0" stroke="#000" stroke-width="1.15"/>
<path d="M376.57 724.25V648.73H386.5V724.25" fill="#C00000" stroke="#000" stroke-width="1.15"/>
<path d="M402.15 724.25V671.93H412.08V724.25" fill="#FFFF00" stroke="#000" stroke-width="1.15"/>
<path d="M412.08 724.25V648.93H422.44V724.25" fill="#00B0F0" stroke="#000" stroke-width="1.15"/>
<path d="M422.44 724.25V649.53H432.38V724.25" fill="#C00000" stroke="#000" stroke-width="1.15"/>
<path d="M256.5 630.2V724.25H440M256.5 630.2h-2.4M256.5 661.55h-2.4M256.5 692.9h-2.4M256.5 724.25h-2.4M256.5 724.25v2.6M302.38 724.25v2.6M348.25 724.25v2.6M394.12 724.25v2.6M440 724.25v2.6" fill="none" stroke="#7d7d7d" stroke-width="1.25"/>
<text x="236.6" y="633.5" font-size="9" textLength="11.6" lengthAdjust="spacingAndGlyphs">1.5</text>
<text x="243.3" y="664.85" font-size="9" textLength="4.9" lengthAdjust="spacingAndGlyphs">1</text>
<text x="236.6" y="696.2" font-size="9" textLength="11.6" lengthAdjust="spacingAndGlyphs">0.5</text>
<text x="243.3" y="727.55" font-size="9" textLength="4.9" lengthAdjust="spacingAndGlyphs">0</text>
<text x="279.54" y="743.5" text-anchor="middle" font-size="11.5" textLength="13.9" lengthAdjust="spacingAndGlyphs" class="c1">NE</text>
<text x="325.41" y="743.5" text-anchor="middle" font-size="11.5" textLength="18.5" lengthAdjust="spacingAndGlyphs" class="c1">NW</text>
<text x="371.29" y="743.5" text-anchor="middle" font-size="11.5" textLength="12.1" lengthAdjust="spacingAndGlyphs" class="c1">SE</text>
<text x="417.16" y="743.5" text-anchor="middle" font-size="11.5" textLength="16.8" lengthAdjust="spacingAndGlyphs" class="c1">SW</text>
<text x="289.3" y="648.7" text-anchor="middle" font-size="16">n</text>
<rect x="289.8" y="763.7" width="5.9" height="5.9" fill="#FFFF00" stroke="#000" stroke-width="1"/>
<text x="298.5" y="770.6" font-size="12" textLength="27.3" lengthAdjust="spacingAndGlyphs">1972</text>
<rect x="335.4" y="763.7" width="5.9" height="5.9" fill="#00B0F0" stroke="#000" stroke-width="1"/>
<text x="345" y="770.6" font-size="12" textLength="26.8" lengthAdjust="spacingAndGlyphs">2001</text>
<rect x="381.8" y="763.7" width="5.9" height="5.9" fill="#C00000" stroke="#000" stroke-width="1"/>
<text x="391.2" y="770.6" font-size="12" textLength="27.3" lengthAdjust="spacingAndGlyphs">2016</text>
</g>
<g id="p_o">
<rect x="460.5" y="624.4" width="229.5" height="151.9" fill="#fff" stroke="#868686" stroke-width="1.0"/>
<path d="M486.7 631.9H675.8" fill="none" stroke="#000" stroke-width="1.2"/>
<path d="M675.3 631.9V727.6" fill="none" stroke="#000" stroke-width="1.2"/>
<path d="M494.53 727.6V655.63H504.88V727.6" fill="#FFFF00" stroke="#000" stroke-width="1.15"/>
<path d="M504.88 727.6V645.83H515.67V727.6" fill="#00B0F0" stroke="#000" stroke-width="1.15"/>
<path d="M515.67 727.6V645.83H526.02V727.6" fill="#C00000" stroke="#000" stroke-width="1.15"/>
<path d="M541.68 727.6V681.63H552.03V727.6" fill="#FFFF00" stroke="#000" stroke-width="1.15"/>
<path d="M552.03 727.6V667.73H562.82V727.6" fill="#00B0F0" stroke="#000" stroke-width="1.15"/>
<path d="M562.82 727.6V667.23H573.17V727.6" fill="#C00000" stroke="#000" stroke-width="1.15"/>
<path d="M588.83 727.6V671.03H599.18V727.6" fill="#FFFF00" stroke="#000" stroke-width="1.15"/>
<path d="M599.18 727.6V674.08H609.97V727.6" fill="#00B0F0" stroke="#000" stroke-width="1.15"/>
<path d="M609.97 727.6V672.23H620.32V727.6" fill="#C00000" stroke="#000" stroke-width="1.15"/>
<path d="M635.98 727.6V684.48H646.33V727.6" fill="#FFFF00" stroke="#000" stroke-width="1.15"/>
<path d="M646.33 727.6V675.73H657.12V727.6" fill="#00B0F0" stroke="#000" stroke-width="1.15"/>
<path d="M657.12 727.6V672.23H667.47V727.6" fill="#C00000" stroke="#000" stroke-width="1.15"/>
<path d="M486.7 631.9V727.6H675.3M486.7 631.9h-2.4M486.7 647.85h-2.4M486.7 663.8h-2.4M486.7 679.75h-2.4M486.7 695.7h-2.4M486.7 711.65h-2.4M486.7 727.6h-2.4M486.7 727.6v2.6M533.85 727.6v2.6M581 727.6v2.6M628.15 727.6v2.6M675.3 727.6v2.6" fill="none" stroke="#7d7d7d" stroke-width="1.25"/>
<text x="466.8" y="635.2" font-size="9" textLength="11.6" lengthAdjust="spacingAndGlyphs">1.2</text>
<text x="473.5" y="651.15" font-size="9" textLength="4.9" lengthAdjust="spacingAndGlyphs">1</text>
<text x="466.8" y="667.1" font-size="9" textLength="11.6" lengthAdjust="spacingAndGlyphs">0.8</text>
<text x="466.8" y="683.05" font-size="9" textLength="11.6" lengthAdjust="spacingAndGlyphs">0.6</text>
<text x="466.8" y="699" font-size="9" textLength="11.6" lengthAdjust="spacingAndGlyphs">0.4</text>
<text x="466.8" y="714.95" font-size="9" textLength="11.6" lengthAdjust="spacingAndGlyphs">0.2</text>
<text x="473.5" y="730.9" font-size="9" textLength="4.9" lengthAdjust="spacingAndGlyphs">0</text>
<text x="510.38" y="746.85" text-anchor="middle" font-size="11.5" textLength="13.9" lengthAdjust="spacingAndGlyphs" class="c1">NE</text>
<text x="557.52" y="746.85" text-anchor="middle" font-size="11.5" textLength="18.5" lengthAdjust="spacingAndGlyphs" class="c1">NW</text>
<text x="604.67" y="746.85" text-anchor="middle" font-size="11.5" textLength="12.1" lengthAdjust="spacingAndGlyphs" class="c1">SE</text>
<text x="651.82" y="746.85" text-anchor="middle" font-size="11.5" textLength="16.8" lengthAdjust="spacingAndGlyphs" class="c1">SW</text>
<text x="572.5" y="649.5" text-anchor="middle" font-size="16">o</text>
<rect x="508" y="762.6" width="5.9" height="5.9" fill="#FFFF00" stroke="#000" stroke-width="1"/>
<text x="516.7" y="769.5" font-size="12" textLength="27.2" lengthAdjust="spacingAndGlyphs">1972</text>
<rect x="558.1" y="762.6" width="5.9" height="5.9" fill="#00B0F0" stroke="#000" stroke-width="1"/>
<text x="566.8" y="769.5" font-size="12" textLength="27.8" lengthAdjust="spacingAndGlyphs">2001</text>
<rect x="607.8" y="762.6" width="5.9" height="5.9" fill="#C00000" stroke="#000" stroke-width="1"/>
<text x="617.5" y="769.5" font-size="12" textLength="27.5" lengthAdjust="spacingAndGlyphs">2016</text>
</g>
<g id="p_p">
<rect x="0.8" y="794.3" width="220.8" height="142.2" fill="#fff" stroke="#868686" stroke-width="1.0"/>
<path d="M23.2 804.3H201.6" fill="none" stroke="#000" stroke-width="1.2"/>
<path d="M201.1 804.3V886.1" fill="none" stroke="#000" stroke-width="1.2"/>
<path d="M50.52 886.1V858.23H60.85V886.1" fill="#C00000" stroke="#000" stroke-width="1.15"/>
<path d="M73.9 886.1V857.73H84.23V886.1" fill="#FFFF00" stroke="#000" stroke-width="1.15"/>
<path d="M84.23 886.1V834.23H94.99V886.1" fill="#00B0F0" stroke="#000" stroke-width="1.15"/>
<path d="M94.99 886.1V835.43H105.32V886.1" fill="#C00000" stroke="#000" stroke-width="1.15"/>
<rect x="128.71" y="845.25" width="10.76" height="40.85" fill="#00B0F0"/>
<path d="M139.47 886.1V844.83H149.8V886.1" fill="#C00000" stroke="#000" stroke-width="1.15"/>
<path d="M162.85 886.1V854.93H173.18V886.1" fill="#FFFF00" stroke="#000" stroke-width="1.15"/>
<rect x="173.18" y="832.65" width="10.76" height="53.45" fill="#00B0F0"/>
<path d="M183.94 886.1V829.73H194.28V886.1" fill="#C00000" stroke="#000" stroke-width="1.15"/>
<path d="M23.2 804.3V886.1H201.1M23.2 804.3h-2.4M23.2 831.57h-2.4M23.2 858.83h-2.4M23.2 886.1h-2.4M23.2 886.1v2.6M67.67 886.1v2.6M112.15 886.1v2.6M156.62 886.1v2.6M201.1 886.1v2.6" fill="none" stroke="#1a1a1a" stroke-width="1.25"/>
<text x="3.3" y="807.6" font-size="9" textLength="11.6" lengthAdjust="spacingAndGlyphs">1.5</text>
<text x="10" y="834.87" font-size="9" textLength="4.9" lengthAdjust="spacingAndGlyphs">1</text>
<text x="3.3" y="862.13" font-size="9" textLength="11.6" lengthAdjust="spacingAndGlyphs">0.5</text>
<text x="10" y="889.4" font-size="9" textLength="4.9" lengthAdjust="spacingAndGlyphs">0</text>
<text x="45.54" y="905" text-anchor="middle" font-size="11.5" textLength="13.9" lengthAdjust="spacingAndGlyphs" class="c1">NE</text>
<text x="90.01" y="905" text-anchor="middle" font-size="11.5" textLength="18.5" lengthAdjust="spacingAndGlyphs" class="c1">NW</text>
<text x="134.49" y="905" text-anchor="middle" font-size="11.5" textLength="12.1" lengthAdjust="spacingAndGlyphs" class="c1">SE</text>
<text x="178.96" y="905" text-anchor="middle" font-size="11.5" textLength="16.8" lengthAdjust="spacingAndGlyphs" class="c1">SW</text>
<text x="50.4" y="820.3" text-anchor="middle" font-size="16">p</text>
<rect x="60.6" y="925.85" width="5.9" height="5.9" fill="#FFFF00" stroke="#000" stroke-width="1"/>
<text x="69.1" y="932.75" font-size="12" textLength="27.5" lengthAdjust="spacingAndGlyphs">1972</text>
<rect x="109.1" y="925.9" width="6.7" height="5.9" fill="#00B0F0"/>
<text x="118" y="932.75" font-size="12" textLength="27.5" lengthAdjust="spacingAndGlyphs">2001</text>
<rect x="157" y="925.85" width="5.9" height="5.9" fill="#C00000" stroke="#000" stroke-width="1"/>
<text x="166.5" y="932.75" font-size="12" textLength="27.7" lengthAdjust="spacingAndGlyphs">2016</text>
</g>
</svg>
</body></html>
